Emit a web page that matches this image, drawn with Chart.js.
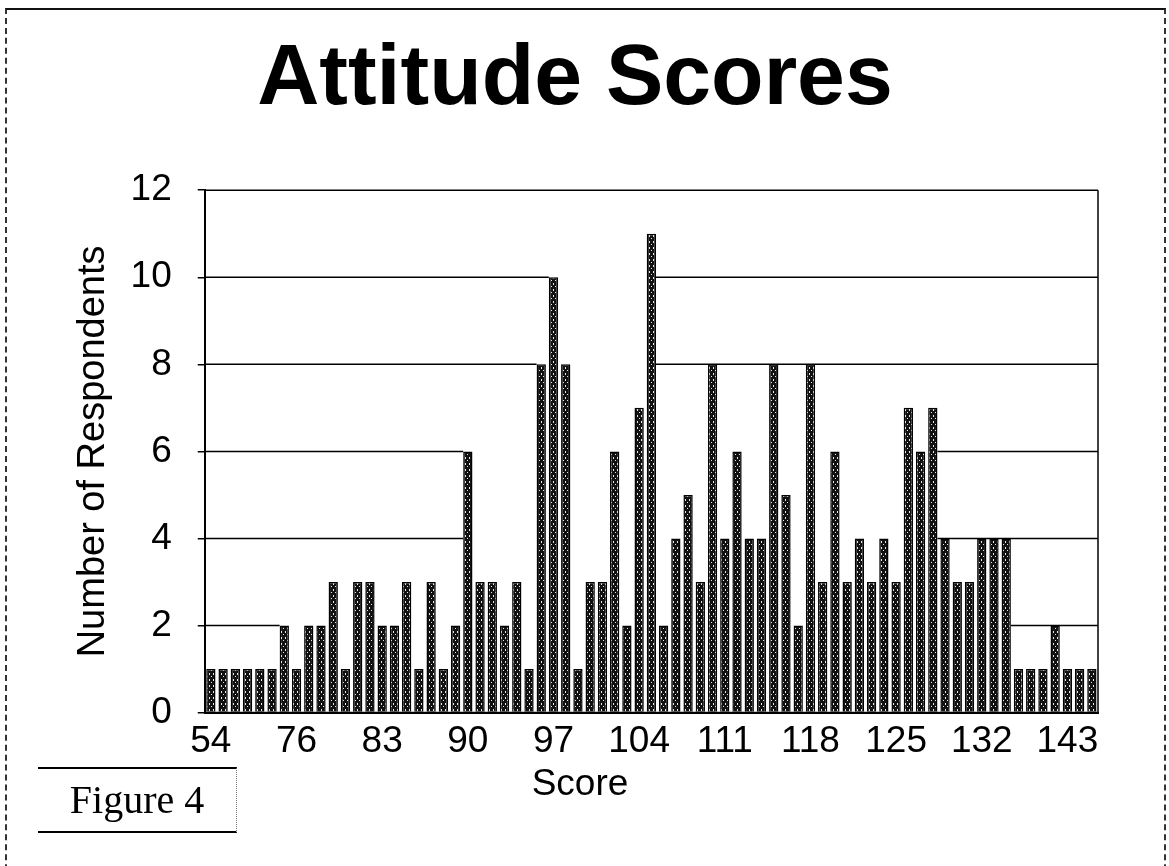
<!DOCTYPE html>
<html>
<head>
<meta charset="utf-8">
<title>Attitude Scores</title>
<script src="https://cdn.jsdelivr.net/npm/chart.js@4.4.0/dist/chart.umd.min.js"></script>
<style>
  html, body { margin: 0; padding: 0; background: #fff; }
  #wrap { position: relative; width: 1169px; height: 866px; overflow: hidden; }
  #frame {
    position: absolute; left: 5px; top: 8px; width: 1157px; height: 900px;
    border-top: 2px solid #111; border-left: 2px dashed #333; border-right: 2px dashed #333;
  }
  #xTitle {
    position: absolute; left: 480px; width: 200px; top: 762px;
    font: 37px "Liberation Sans", Arial, sans-serif; text-align: center; color: #000;
  }
  #fig {
    position: absolute; left: 38px; top: 767px; width: 198px; height: 62px;
    border-top: 2px solid #000; border-bottom: 2px solid #000; border-right: 1px dotted #777;
    font: 40px "Liberation Serif", "Times New Roman", serif; text-align: center; line-height: 62px; color: #000;
  }
  canvas { position: absolute; left: 0; top: 0; }
</style>
</head>
<body>
<div id="wrap">
  <div id="frame"></div>
  <canvas id="scoreChart" width="1169" height="866"></canvas>
  <div id="xTitle">Score</div>
  <div id="fig">Figure 4</div>
</div>
<script>
// scores that had at least one respondent (only every 7th is labelled on the axis)
const scores = [
  54, 58, 61, 64, 68, 71, 74,
  76, 77, 78, 79, 80, 81, 82, 83, 84, 85, 86, 87, 88, 89, 90,
  91, 92, 93, 94, 95, 96, 97, 98, 99, 100, 101, 102, 103, 104,
  105, 106, 107, 108, 109, 110, 111, 112, 113, 114, 115, 116, 117, 118,
  119, 120, 121, 122, 123, 124, 125, 126, 127, 128, 129, 130, 131, 132,
  133, 134, 136, 137, 139, 141, 143, 145, 148
];
const respondents = [
  1, 1, 1, 1, 1, 1, 2,
  1, 2, 2, 3, 1, 3, 3, 2, 2, 3, 1, 3, 1, 2, 6,
  3, 3, 2, 3, 1, 8, 10, 8, 1, 3, 3, 6, 2, 7,
  11, 2, 4, 5, 3, 8, 4, 6, 4, 4, 8, 5, 2, 8,
  3, 6, 3, 4, 3, 4, 3, 7, 6, 7, 4, 3, 3, 4,
  4, 4, 1, 1, 1, 2, 1, 1, 1
];
const shownScores = [54, 76, 83, 90, 97, 104, 111, 118, 125, 132, 143];
const yTicks = [0, 2, 4, 6, 8, 10, 12];

const axisFont = { family: '"Liberation Sans", Arial, sans-serif', size: 37 };

function barPattern() {
  const c = document.createElement('canvas');
  c.width = 4;
  c.height = 6;
  const g = c.getContext('2d');
  g.fillStyle = '#111';
  g.fillRect(0, 0, 4, 6);
  g.fillStyle = '#e6e6e6';
  g.fillRect(1, 1, 1, 2);
  g.fillRect(3, 4, 1, 1);
  return g.createPattern(c, 'repeat');
}

// gridlines as printed: each line is broken off between the first bar that
// reaches it and the last bar that rises above it
const gridLines = {
  id: 'gridLines',
  beforeDatasetsDraw(chart) {
    const { ctx, chartArea, scales } = chart;
    const bars = chart.getDatasetMeta(0).data;
    const half = bars[0].width / 2;
    ctx.save();
    ctx.strokeStyle = '#000';
    ctx.lineWidth = 1.5;
    yTicks.forEach(v => {
      const y = scales.y.getPixelForValue(v);
      const first = respondents.findIndex(n => n >= v);
      let last = -1;
      respondents.forEach((n, i) => { if (n > v) last = i; });
      ctx.beginPath();
      if (v === 0 || first < 0 || last < first) {
        ctx.moveTo(chartArea.left, y);
        ctx.lineTo(chartArea.right, y);
      } else {
        ctx.moveTo(chartArea.left, y);
        ctx.lineTo(scales.x.getPixelForValue(first) - half, y);
        ctx.moveTo(scales.x.getPixelForValue(last) + half, y);
        ctx.lineTo(chartArea.right, y);
      }
      ctx.stroke();
    });
    ctx.beginPath();
    ctx.moveTo(chartArea.right, chartArea.top);
    ctx.lineTo(chartArea.right, chartArea.bottom);
    ctx.stroke();
    ctx.restore();
  }
};

new Chart(document.getElementById('scoreChart'), {
  type: 'bar',
  data: {
    labels: scores,
    datasets: [{
      data: respondents,
      backgroundColor: barPattern(),
      borderColor: '#000',
      borderWidth: 1.5,
      categoryPercentage: 1,
      barPercentage: 0.76
    }]
  },
  options: {
    responsive: false,
    animation: false,
    layout: { padding: { left: 52, right: 71, top: 0, bottom: 95 } },
    plugins: {
      legend: { display: false },
      tooltip: { enabled: false },
      title: {
        display: true,
        text: 'Attitude Scores',
        color: '#000',
        font: { family: '"Liberation Sans", Arial, sans-serif', size: 86, weight: 'bold' },
        padding: { top: 29, bottom: 58 }
      }
    },
    scales: {
      x: {
        grid: { display: false, drawTicks: false },
        border: { display: true, color: '#000', width: 2 },
        ticks: {
          autoSkip: false,
          maxRotation: 0,
          minRotation: 0,
          padding: 7,
          color: '#000',
          font: axisFont,
          callback: function(value) {
            const s = scores[value];
            return shownScores.includes(s) ? String(s) : '';
          }
        }
      },
      y: {
        min: 0,
        max: 12,
        afterBuildTicks: axis => { axis.ticks = yTicks.map(v => ({ value: v })); },
        grid: { color: 'rgba(0,0,0,0)', tickColor: '#000', lineWidth: 1.5, tickLength: 7 },
        border: { display: true, color: '#000', width: 2 },
        ticks: { padding: 26, color: '#000', font: axisFont },
        title: {
          display: true,
          text: 'Number of Respondents',
          color: '#000',
          font: { family: '"Liberation Sans", Arial, sans-serif', size: 38 },
          padding: { top: 19, bottom: -12 }
        }
      }
    }
  },
  plugins: [gridLines]
});
</script>
</body>
</html>
